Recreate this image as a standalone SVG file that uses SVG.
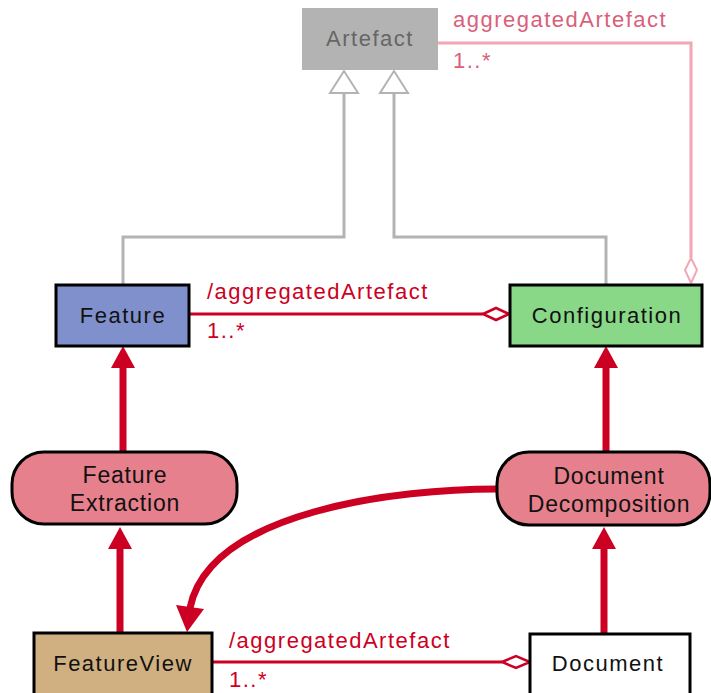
<svg xmlns="http://www.w3.org/2000/svg" width="711" height="693" viewBox="0 0 711 693">
<style>
.box{stroke:#000;stroke-width:3}
.lbl{font-family:"Liberation Sans",Arial,sans-serif;font-size:22px;fill:#111;text-anchor:middle;letter-spacing:1.5px}
.act{font-family:"Liberation Sans",Arial,sans-serif;font-size:23px;fill:#111;text-anchor:middle;letter-spacing:0.8px}
.role{font-family:"Liberation Sans",Arial,sans-serif;font-size:22px;fill:#cc0022;letter-spacing:1.5px}
.rolep{font-family:"Liberation Sans",Arial,sans-serif;font-size:22px;fill:#d9607a;letter-spacing:1.5px}
.gen{fill:none;stroke:#b3b3b3;stroke-width:3}
.flow{fill:none;stroke:#cc0022;stroke-width:7}
.agg{fill:none;stroke:#cc0022;stroke-width:3}
</style>
<g id="connectors">
<polyline class="gen" points="123,285 123,237 344,237 344,93"/>
<polyline class="gen" points="606,285 606,237 394,237 394,93"/>
<polygon points="344,71 330,93 358,93" fill="#fff" stroke="#b3b3b3" stroke-width="2"/>
<polygon points="394,71 380,93 408,93" fill="#fff" stroke="#b3b3b3" stroke-width="2"/>
<polyline points="438,43 691,43 691,258" fill="none" stroke="#f0a8b4" stroke-width="3"/>
<polygon points="691,258 697,270 691,283 685,270" fill="#fff" stroke="#f0a8b4" stroke-width="2"/>
<line class="agg" x1="189" y1="314" x2="483" y2="314"/>
<polygon points="483,314 496,308 509,314 496,320" fill="#fff" stroke="#cc0022" stroke-width="2.5"/>
<line class="agg" x1="212" y1="662" x2="502" y2="662"/>
<polygon points="502,662 516,656 530,662 516,668" fill="#fff" stroke="#cc0022" stroke-width="2.5"/>
<line class="flow" x1="123" y1="452" x2="123" y2="365"/>
<polygon points="123,346 111,368 135,368" fill="#cc0022"/>
<line class="flow" x1="606" y1="452" x2="606" y2="365"/>
<polygon points="606,346 594,368 618,368" fill="#cc0022"/>
<line class="flow" x1="120" y1="632" x2="120" y2="548"/>
<polygon points="120,527 108,549 132,549" fill="#cc0022"/>
<line class="flow" x1="604" y1="633" x2="604" y2="548"/>
<polygon points="604,527 592,549 616,549" fill="#cc0022"/>
<path class="flow" d="M497,489 C400,489 210,510 190,608"/>
<polygon points="187,632 176,605 204,609" fill="#cc0022"/>
</g>
<g id="artefact">
<rect x="302" y="8" width="136" height="62" fill="#b3b3b3"/>
<text class="lbl" x="370" y="46" style="fill:#666">Artefact</text>
</g>
<text class="rolep" x="453" y="27">aggregatedArtefact</text>
<text class="rolep" x="453" y="68">1..*</text>
<g id="feature">
<rect class="box" x="56" y="285" width="133" height="61" fill="#8090cc"/>
<text class="lbl" x="123" y="323">Feature</text>
</g>
<g id="configuration">
<rect class="box" x="510" y="285" width="192" height="61" fill="#88d888"/>
<text class="lbl" x="607" y="323">Configuration</text>
</g>
<text class="role" x="207" y="299">/aggregatedArtefact</text>
<text class="role" x="207" y="338">1..*</text>
<g id="featureExtraction">
<rect class="box" x="12" y="452" width="225" height="72" rx="32" fill="#e6808c" stroke-width="2"/>
<text class="act" x="125" y="483">Feature</text>
<text class="act" x="125" y="511">Extraction</text>
</g>
<g id="documentDecomposition">
<rect class="box" x="497" y="452" width="213" height="73" rx="32" fill="#e6808c" stroke-width="2"/>
<text class="act" x="609" y="484">Document</text>
<text class="act" x="609" y="512">Decomposition</text>
</g>
<g id="featureView">
<rect class="box" x="34" y="633" width="178" height="62" fill="#d0b080"/>
<text class="lbl" x="123" y="671">FeatureView</text>
</g>
<g id="document">
<rect class="box" x="530" y="634" width="160" height="61" fill="#fff"/>
<text class="lbl" x="608" y="671">Document</text>
</g>
<text class="role" x="229" y="648">/aggregatedArtefact</text>
<text class="role" x="229" y="687">1..*</text>
</svg>
